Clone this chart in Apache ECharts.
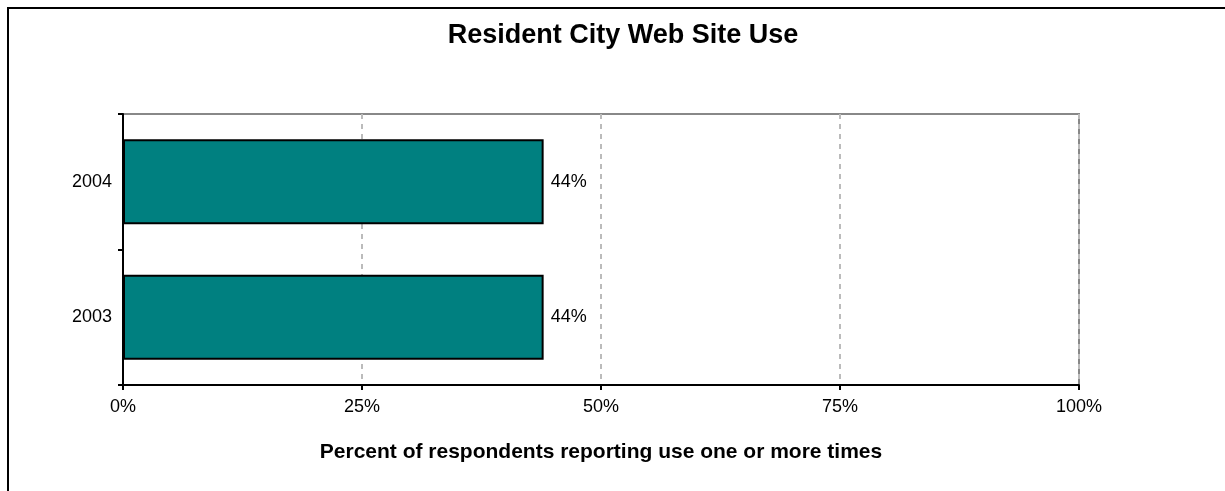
<!DOCTYPE html>
<html>
<head>
<meta charset="utf-8">
<script src="https://cdn.jsdelivr.net/npm/echarts@6/dist/echarts.min.js"></script>
<style>
html,body{margin:0;padding:0;background:#fff;}
#chart{width:1225px;height:491px;}
</style>
</head>
<body>
<div id="chart"></div>
<script>
const titleText = 'Resident City Web Site Use';
const categories = ['2003', '2004'];
const values = [44, 44];
const xTicks = [0, 25, 50, 75, 100];
const xAxisName = 'Percent of respondents reporting use one or more times';

const chart = echarts.init(document.getElementById('chart'), null, {renderer: 'canvas'});
const font = '"Liberation Sans", Arial, sans-serif';
chart.setOption({
  animation: false,
  backgroundColor: '#fff',
  graphic: [
    {type: 'line', shape: {x1: 7, y1: 8, x2: 1225, y2: 8}, style: {stroke: '#000', lineWidth: 2}},
    {type: 'line', shape: {x1: 8, y1: 7, x2: 8, y2: 491}, style: {stroke: '#000', lineWidth: 2}}
  ],
  title: {
    text: titleText,
    left: 618, textAlign: 'center',
    top: 17,
    textStyle: {fontFamily: font, fontSize: 27, fontWeight: 'bold', color: '#000'}
  },
  grid: {
    left: 123, top: 114, right: 146, bottom: 106,
    show: true, borderColor: '#888', borderWidth: 2, backgroundColor: 'transparent'
  },
  xAxis: {
    type: 'value',
    min: xTicks[0], max: xTicks[xTicks.length - 1], interval: 25,
    name: xAxisName, nameLocation: 'middle', nameGap: 57,
    nameTextStyle: {fontFamily: font, fontSize: 21, fontWeight: 'bold', color: '#000'},
    axisLine: {show: true, lineStyle: {color: '#000', width: 2}},
    axisTick: {show: true, length: 5, lineStyle: {color: '#000', width: 2}},
    axisLabel: {formatter: '{value}%', fontFamily: font, fontSize: 18, color: '#000', margin: 13},
    splitLine: {show: true, lineStyle: {color: '#bbb', width: 2, type: [5, 5]}}
  },
  yAxis: {
    type: 'category',
    data: categories,
    axisLine: {show: true, lineStyle: {color: '#000', width: 2}},
    axisTick: {show: true, length: 5, lineStyle: {color: '#000', width: 2}},
    axisLabel: {fontFamily: font, fontSize: 18, color: '#000', margin: 11},
    splitLine: {show: false}
  },
  series: [{
    type: 'bar',
    data: values,
    barWidth: 85,
    itemStyle: {color: '#008080', borderColor: '#000', borderWidth: 2},
    label: {show: true, position: 'right', distance: 7, formatter: '{c}%',
      fontFamily: font, fontSize: 18, color: '#000'}
  }]
});
</script>
</body>
</html>
